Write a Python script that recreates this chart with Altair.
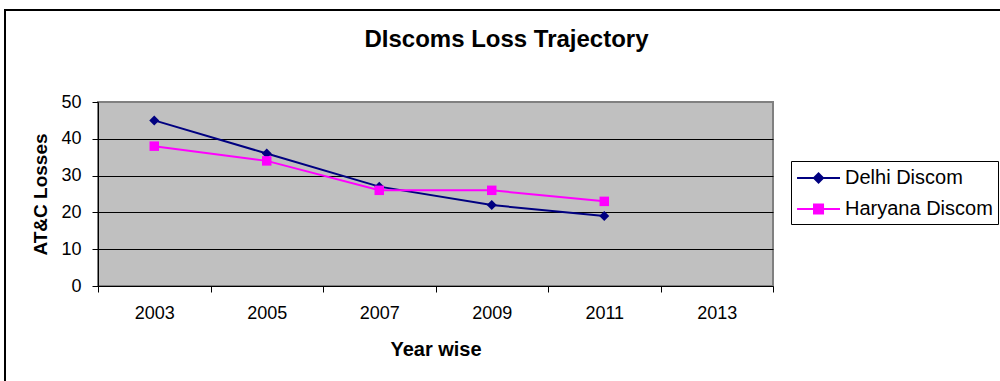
import altair as alt
import pandas as pd

years = [2003, 2005, 2007, 2009, 2011]
delhi = [45, 36, 27, 22, 19]
haryana = [38, 34, 26, 26, 23]
series_names = ["Delhi Discom", "Haryana Discom"]
series_colors = ["#000080", "#FF00FF"]
x_ticks = list(range(2002, 2015))
y_ticks = [0, 10, 20, 30, 40, 50]

rows = []
for y, v in zip(years, delhi):
    rows.append({"year": y, "value": v, "series": series_names[0]})
for y, v in zip(years, haryana):
    rows.append({"year": y, "value": v, "series": series_names[1]})
df = pd.DataFrame(rows)

FONT = "Liberation Sans"

x_enc = alt.X(
    "year:Q",
    scale=alt.Scale(domain=[2002, 2014], nice=False, zero=False),
    axis=alt.Axis(
        values=x_ticks,
        labelExpr="datum.value % 2 == 1 ? '' + datum.value : ''",
        tickOpacity={"condition": {"test": "datum.value % 2 == 1", "value": 0}, "value": 1},
        labelOverlap=False,
        grid=False,
        title="Year wise",
        tickSize=6,
        labelPadding=12,
        titlePadding=17,
        labelFontSize=18,
        titleFontSize=20,
        titleFontWeight="bold",
        domainColor="black",
        tickColor="black",
        labelColor="black",
        titleColor="black",
    ),
)
y_enc = alt.Y(
    "value:Q",
    scale=alt.Scale(domain=[0, 50], nice=False),
    axis=alt.Axis(
        values=y_ticks,
        title="AT&C Losses",
        grid=True,
        gridColor="black",
        gridOpacity={"condition": {"test": "datum.value == 50 || datum.value == 0", "value": 0}, "value": 1},
        labelOverlap=False,
        tickSize=6,
        labelPadding=11,
        titlePadding=10,
        labelFontSize=18,
        titleFontSize=19,
        titleFontWeight="bold",
        domainColor="black",
        tickColor="black",
        labelColor="black",
        titleColor="black",
    ),
)

color_scale = alt.Scale(domain=series_names, range=series_colors)

frame = alt.Chart(pd.DataFrame({"a": [0]})).mark_rect(
    fill="transparent", stroke="black", strokeWidth=2
).encode(
    x=alt.value(-93), x2=alt.value(912), y=alt.value(-92), y2=alt.value(300)
)

# legend symbols: a line with the series marker on it
legend_paths = [
    "M-1.02,0H2.98M0.56,0L0.98,-0.42L1.4,0L0.98,0.42Z",
    "M-1.02,0H2.98M0.56,-0.42H1.4V0.42H0.56Z",
]


def make_legend():
    return alt.Legend(
        title=None,
        orient="none",
        legendX=693,
        legendY=59,
        labelFont=FONT,
        labelFontSize=20,
        labelColor="black",
        labelOffset=25,
        symbolSize=462,
        symbolStrokeWidth=2,
        symbolOpacity=1,
        strokeColor="black",
        fillColor="white",
        padding=5,
        rowPadding=9,
    )


lines = alt.Chart(df).mark_line(strokeWidth=2).encode(
    x=x_enc,
    y=y_enc,
    color=alt.Color("series:N", scale=color_scale, legend=make_legend()),
    detail="series:N",
)

delhi_pts = alt.Chart(df).transform_filter(
    alt.datum.series == series_names[0]
).mark_point(shape="diamond", filled=True, size=100, opacity=1).encode(
    x=x_enc, y=y_enc,
    color=alt.Color("series:N", scale=color_scale, legend=make_legend()),
)
haryana_pts = alt.Chart(df).transform_filter(
    alt.datum.series == series_names[1]
).mark_point(shape="square", filled=True, size=90, opacity=1).encode(
    x=x_enc, y=y_enc,
    color=alt.Color("series:N", scale=color_scale, legend=make_legend()),
)

legend_layer = alt.Chart(df).transform_filter(
    "datum.value < 0"
).mark_point(filled=True, strokeWidth=2).encode(
    x=x_enc, y=y_enc,
    fill=alt.Fill("series:N", scale=alt.Scale(domain=series_names, range=series_colors),
                  legend=make_legend()),
    stroke=alt.Stroke("series:N", scale=alt.Scale(domain=series_names, range=series_colors),
                      legend=make_legend()),
    shape=alt.Shape("series:N", scale=alt.Scale(domain=series_names, range=legend_paths),
                    legend=make_legend()),
)

chart = alt.layer(frame, lines, delhi_pts, haryana_pts, legend_layer).properties(
    width=675,
    height=184,
    title=alt.TitleParams(
        "DIscoms Loss Trajectory",
        fontSize=24,
        fontWeight="bold",
        font=FONT,
        color="black",
        anchor="middle",
        frame="group",
        dx=71,
        offset=-43,
    ),
    autosize=alt.AutoSizeParams(type="none"),
    padding={"left": 98, "top": 102, "right": 227, "bottom": 95},
    background="white",
).configure_view(
    fill="#C0C0C0", stroke="#808080", strokeWidth=2
).configure_axis(
    labelFont=FONT, titleFont=FONT
)

chart.save("out.html", embed_options={"renderer": "svg", "actions": False})
